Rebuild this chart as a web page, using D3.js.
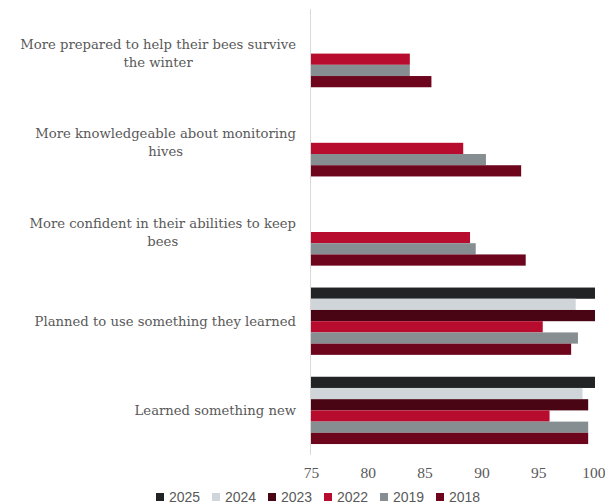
<!DOCTYPE html>
<html><head><meta charset="utf-8">
<script src="https://cdn.jsdelivr.net/npm/d3@7"></script>
<style>body{margin:0;background:#fff;}svg{display:block;}</style>
</head><body>
<svg id="chart" width="605" height="504"></svg>
<script>
const categories = [
  ["More prepared to help their bees survive", "the winter"],
  ["More knowledgeable about monitoring", "hives"],
  ["More confident in their abilities to keep", "bees"],
  ["Planned to use something they learned"],
  ["Learned something new"]
];
const seriesNames = ["2025", "2024", "2023", "2022", "2019", "2018"];
const seriesColors = ["#222325", "#d0d5d9", "#4a0514", "#b80c2f", "#878e91", "#6d061d"];
// values by series, in category order (null = no data)
const v2025 = [null, null, null, 100, 100];
const v2024 = [null, null, null, 98.3, 98.9];
const v2023 = [null, null, null, 100, 99.4];
const v2022 = [83.7, 88.4, 89.0, 95.4, 96.0];
const v2019 = [83.7, 90.4, 89.5, 98.5, 99.4];
const v2018 = [85.6, 93.5, 93.9, 97.9, 99.4];
const xTicks = [75, 80, 85, 90, 95, 100];
const seriesValues = [v2025, v2024, v2023, v2022, v2019, v2018];

const svg = d3.select("#chart");
const catKeys = categories.map((c, i) => i);
const x = d3.scaleLinear().domain([75, 100]).range([311, 595]);
const y = d3.scaleBand().domain(catKeys).range([9, 455]).paddingInner(0.2455).paddingOuter(0.1228);
const ys = d3.scaleBand().domain(seriesNames).range([0, y.bandwidth()]);

const serif = "'DejaVu Serif', serif";
const textColor = "#595959";

// bars
const g = svg.append("g");
catKeys.forEach(ci => {
  seriesNames.forEach((s, si) => {
    const v = seriesValues[si][ci];
    if (v == null) return;
    g.append("rect")
      .attr("x", x(75))
      .attr("y", y(ci) + ys(s))
      .attr("width", x(v) - x(75))
      .attr("height", ys.bandwidth())
      .attr("fill", seriesColors[si]);
  });
});

// vertical axis line
svg.append("line").attr("x1", x(75) - 0.5).attr("x2", x(75) - 0.5)
  .attr("y1", y.range()[0]).attr("y2", y.range()[1])
  .attr("stroke", "#d9d9d9").attr("stroke-width", 1);

// x axis
const xAxis = d3.axisBottom(x).tickValues(xTicks).tickSize(0).tickPadding(0);
const ax = svg.append("g").attr("transform", "translate(0,473)").call(xAxis);
ax.select(".domain").remove();
ax.selectAll("text").attr("font-family", "'Liberation Serif', serif").attr("font-size", 15.5)
  .attr("fill", textColor).attr("dy", "0.35em");
ax.selectAll(".tick").filter(d => d === 100).select("text").attr("text-anchor", "end").attr("x", 10);

// category labels
const labelRight = 296;
const lineH = 18;
const fs = 13.2;
catKeys.forEach(ci => {
  const lines = categories[ci];
  const cy = y(ci) + y.bandwidth() / 2;
  const tg = svg.append("g");
  const texts = lines.map((t, li) => tg.append("text")
    .attr("font-family", serif).attr("font-size", fs).attr("fill", textColor)
    .attr("text-anchor", "middle")
    .attr("y", cy + (li - (lines.length - 1) / 2) * lineH)
    .attr("dy", "0.35em")
    .text(t));
  const w = d3.max(texts, t => t.node().getComputedTextLength());
  texts.forEach(t => t.attr("x", labelRight - w / 2));
});

// legend
const leg = svg.append("g");
seriesNames.forEach((s, i) => {
  const lx = 156 + i * 56;
  leg.append("rect").attr("x", lx).attr("y", 493).attr("width", 8).attr("height", 8).attr("fill", seriesColors[i]);
  leg.append("text").attr("x", lx + 13).attr("y", 497).attr("dy", "0.35em")
    .attr("font-family", "'Liberation Sans', Arial, sans-serif").attr("font-size", 14)
    .attr("fill", textColor).text(s);
});
</script>
</body></html>
